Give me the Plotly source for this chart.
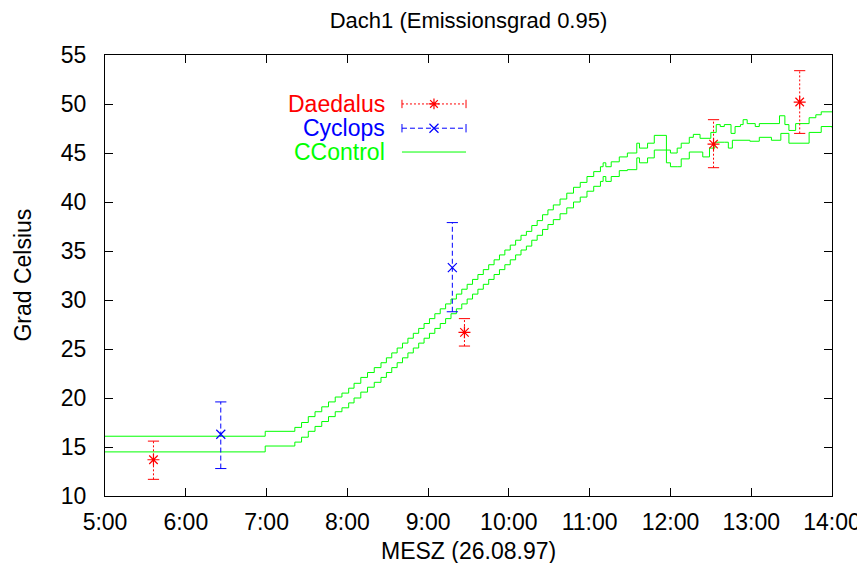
import plotly.graph_objects as go

DAY = "1997-08-26 "

# Daedalus messpunkte mit fehlerbalken
daedalus_t = ["05:36", "09:27", "12:32", "13:36"]
daedalus_y = [13.7, 26.7, 45.9, 50.2]
daedalus_lo = [11.7, 25.3, 43.5, 47.0]
daedalus_hi = [15.6, 28.1, 48.4, 53.4]

# Cyclops messpunkte mit fehlerbalken
cyclops_t = ["06:26", "09:18"]
cyclops_y = [16.3, 33.3]
cyclops_lo = [12.8, 28.8]
cyclops_hi = [19.6, 37.9]

# CControl obere kurve
cc_upper_t = ["05:00", "06:59", "07:21", "07:26", "07:31", "07:36", "07:41", "07:46", "07:51", "07:56",
              "08:01", "08:05", "08:10", "08:15", "08:20", "08:25", "08:29", "08:33", "08:37", "08:41",
              "08:45", "08:49", "08:53", "08:57", "09:01", "09:05", "09:09", "09:13", "09:17", "09:21",
              "09:25", "09:29", "09:33", "09:37", "09:41", "09:45", "09:49", "09:53", "09:57", "10:01",
              "10:05", "10:09", "10:13", "10:17", "10:21", "10:25", "10:29", "10:33", "10:38", "10:43",
              "10:48", "10:53", "10:58", "11:03", "11:08", "11:10", "11:12", "11:16", "11:22", "11:28",
              "11:35", "11:37", "11:43", "11:48", "11:57", "12:00", "12:05", "12:08", "12:14", "12:17",
              "12:22", "12:30", "12:34", "12:37", "12:40", "12:45", "12:48", "12:52", "12:54", "12:57",
              "13:03", "13:06", "13:21", "13:25", "13:28", "13:33", "13:43", "13:48", "13:52", "14:00"]
cc_upper_y = [16.1, 16.6, 17.0, 17.5, 18.1, 18.6, 19.1, 19.6, 20.1, 20.5,
              21.0, 21.5, 22.1, 22.6, 23.1, 23.6, 24.1, 24.6, 25.1, 25.6,
              26.1, 26.6, 27.1, 27.6, 28.1, 28.6, 29.1, 29.6, 30.1, 30.6,
              31.1, 31.6, 32.1, 32.6, 33.1, 33.6, 34.1, 34.6, 35.1, 35.6,
              36.1, 36.6, 37.0, 37.6, 38.1, 38.7, 39.2, 39.7, 40.3, 40.9,
              41.5, 42.0, 42.6, 43.1, 43.6, 44.0, 43.6, 44.1, 44.6, 45.0,
              46.0, 45.5, 46.0, 46.8, 45.3, 45.0, 45.5, 46.0, 46.6, 46.9,
              46.5, 47.1, 47.9, 47.7, 47.9, 47.0, 47.7, 47.9, 48.4, 48.0,
              47.7, 48.0, 48.8, 47.9, 47.3, 48.0, 48.6, 48.9, 49.2, 49.2]

# CControl untere kurve
cc_lower_t = ["05:00", "06:59", "07:21", "07:26", "07:31", "07:36", "07:41", "07:46", "07:51", "07:56",
              "08:01", "08:05", "08:10", "08:15", "08:20", "08:25", "08:29", "08:33", "08:37", "08:41",
              "08:45", "08:49", "08:53", "08:57", "09:01", "09:05", "09:09", "09:13", "09:17", "09:21",
              "09:25", "09:29", "09:33", "09:37", "09:41", "09:45", "09:49", "09:53", "09:57", "10:01",
              "10:05", "10:09", "10:13", "10:17", "10:21", "10:25", "10:29", "10:33", "10:38", "10:43",
              "10:48", "10:53", "10:58", "11:03", "11:08", "11:10", "11:12", "11:16", "11:22", "11:28",
              "11:35", "11:37", "11:43", "11:48", "11:57", "12:00", "12:05", "12:08", "12:14", "12:24",
              "12:29", "12:33", "12:40", "12:43", "12:46", "12:59", "13:06", "13:15", "13:22", "13:28",
              "13:43", "13:52", "14:00"]
cc_lower_y = [14.5, 15.1, 15.5, 16.0, 16.6, 17.1, 17.6, 18.1, 18.6, 19.0,
              19.5, 20.0, 20.6, 21.1, 21.6, 22.1, 22.6, 23.1, 23.6, 24.1,
              24.6, 25.1, 25.6, 26.1, 26.6, 27.1, 27.6, 28.1, 28.6, 29.1,
              29.6, 30.1, 30.6, 31.1, 31.6, 32.1, 32.6, 33.1, 33.6, 34.1,
              34.6, 35.1, 35.5, 36.1, 36.6, 37.2, 37.7, 38.2, 38.8, 39.4,
              40.0, 40.5, 41.1, 41.6, 42.1, 42.6, 42.1, 42.6, 43.2, 43.3,
              44.5, 44.0, 44.5, 45.3, 44.0, 43.6, 43.6, 44.4, 45.1, 44.6,
              45.5, 46.1, 46.1, 45.5, 46.3, 46.2, 46.6, 46.3, 47.0, 46.0,
              47.1, 47.7, 47.6]

RED = "#ff0000"
BLUE = "#0000ff"
GREEN = "#00ff00"
FONT = "Liberation Sans, Arial, sans-serif"
FS = 23
RED_DASH = "2px,2px"
BLUE_DASH = "5px,3px"


def ts(times):
    return [DAY + t for t in times]


def errbar_traces(times, lo, hi, color, dash):
    """vertical bar + caps in gnuplot style"""
    bx, by = [], []
    for t, a, b in zip(ts(times), lo, hi):
        bx += [t, t, None]
        by += [a, b, None]
    bar = go.Scatter(x=bx, y=by, mode="lines", line=dict(color=color, width=1, dash=dash),
                     hoverinfo="skip", showlegend=False)
    caps = go.Scatter(x=ts(times) + ts(times), y=lo + hi, mode="markers",
                      marker=dict(symbol="line-ew", size=8, color=color, line=dict(color=color, width=1)),
                      hoverinfo="skip", showlegend=False)
    return [bar, caps]


fig = go.Figure()

fig.add_trace(go.Scatter(x=ts(cc_upper_t), y=cc_upper_y, mode="lines", line_shape="hv",
                         line=dict(color=GREEN, width=1), name="CControl", showlegend=False))
fig.add_trace(go.Scatter(x=ts(cc_lower_t), y=cc_lower_y, mode="lines", line_shape="hv",
                         line=dict(color=GREEN, width=1), name="CControl", showlegend=False))

for tr in errbar_traces(daedalus_t, daedalus_lo, daedalus_hi, RED, RED_DASH):
    fig.add_trace(tr)
for tr in errbar_traces(cyclops_t, cyclops_lo, cyclops_hi, BLUE, BLUE_DASH):
    fig.add_trace(tr)

fig.add_trace(go.Scatter(x=ts(daedalus_t), y=daedalus_y, mode="markers", name="Daedalus",
                         marker=dict(symbol="asterisk-open", size=10, color=RED,
                                     line=dict(color=RED, width=1.2)),
                         showlegend=False))
fig.add_trace(go.Scatter(x=ts(cyclops_t), y=cyclops_y, mode="markers", name="Cyclops",
                         marker=dict(symbol="x-thin-open", size=9, color=BLUE,
                                     line=dict(color=BLUE, width=1.2)),
                         showlegend=False))

# gnuplot-artiger key: text rechts ausgerichtet, muster rechts daneben (overlay-achse 0..1)
key_names = ["Daedalus", "Cyclops", "CControl"]
key_colors = [RED, BLUE, GREEN]
key_dash = [RED_DASH, BLUE_DASH, "solid"]
key_sym = ["asterisk-open", "x-thin-open", None]
key_y = [0.889, 0.834, 0.780]
kx0, kx1, kxm, ktext = 0.4085, 0.4966, 0.4525, 0.388

annotations = []
for name, col, dash, sym, y in zip(key_names, key_colors, key_dash, key_sym, key_y):
    fig.add_trace(go.Scatter(x=[kx0, kx1], y=[y, y], xaxis="x2", yaxis="y2", mode="lines",
                             line=dict(color=col, width=1, dash=dash), hoverinfo="skip", showlegend=False))
    if sym:
        fig.add_trace(go.Scatter(x=[kx0, kx1], y=[y, y], xaxis="x2", yaxis="y2", mode="markers",
                                 marker=dict(symbol="line-ns", size=6, color=col, line=dict(color=col, width=1)),
                                 hoverinfo="skip", showlegend=False))
        fig.add_trace(go.Scatter(x=[kxm], y=[y], xaxis="x2", yaxis="y2", mode="markers",
                                 marker=dict(symbol=sym, size=9, color=col, line=dict(color=col, width=1.2)),
                                 hoverinfo="skip", showlegend=False))
    annotations.append(dict(text=name, x=ktext, y=y, xref="paper", yref="paper", xanchor="right",
                            yanchor="middle", showarrow=False, font=dict(color=col, size=FS, family=FONT)))

annotations.append(dict(text="MESZ (26.08.97)", x=0.5, y=-0.125, xref="paper", yref="paper",
                        xanchor="center", yanchor="middle", showarrow=False,
                        font=dict(size=FS, color="black", family=FONT)))
annotations.append(dict(text="Grad Celsius", x=-0.114, y=0.5, xref="paper", yref="paper", textangle=-90,
                        xanchor="center", yanchor="middle", showarrow=False,
                        font=dict(size=FS, color="black", family=FONT)))

axis_common = dict(showgrid=False, zeroline=False, showline=True, linecolor="black", linewidth=1,
                   mirror="ticks", ticks="inside", ticklen=8, tickcolor="black", automargin=False,
                   tickfont=dict(size=FS, color="black", family=FONT))

# die seite hat 8px body-rand, daher alles um 8px nach links/oben und kleiner, damit nichts scrollt
W, H = 857, 555
fig.update_layout(
    width=W, height=H,
    margin=dict(l=97, r=W - 97 - 727, t=47, b=H - 47 - 441, autoexpand=False),
    paper_bgcolor="white", plot_bgcolor="white",
    showlegend=False,
    title=dict(text="Dach1 (Emissionsgrad 0.95)", x=0.5, xref="paper", y=1 - 12 / H,
               yref="container", xanchor="center", yanchor="middle",
               font=dict(size=FS - 1, color="black", family=FONT)),
    xaxis=dict(type="date", range=[DAY + "05:00", DAY + "14:00"], dtick=3600000,
               tick0=DAY + "05:00", tickformat="%-H:%M", ticklabelstandoff=5, **axis_common),
    yaxis=dict(range=[10, 55], dtick=5, ticklabelstandoff=13, **axis_common),
    xaxis2=dict(overlaying="x", range=[0, 1], visible=False),
    yaxis2=dict(overlaying="y", range=[0, 1], visible=False),
    annotations=annotations,
)

fig.write_html("out.html")
